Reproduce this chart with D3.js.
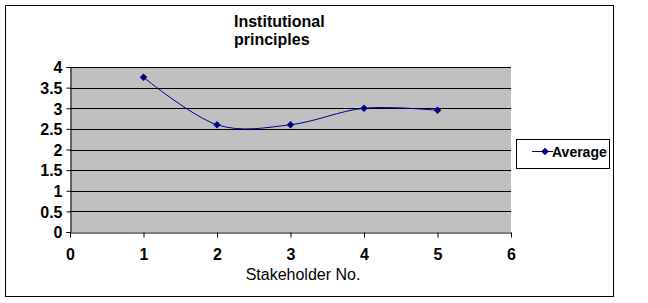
<!DOCTYPE html>
<html lang="en">
<head>
  <meta charset="UTF-8">
  <title>Institutional principles</title>
  <style>
    body { margin: 0; background: #fff; }
    svg { display: block; font-family: "Liberation Sans", Arial, sans-serif; }
  </style>
</head>
<body>
  <svg id="chart" width="648" height="303"></svg>
  <script src="https://d3js.org/d3.v7.min.js"></script>
  <script>
    // data
    const stakeholders = [1, 2, 3, 4, 5];
    const average = [3.75, 2.6, 2.6, 3.0, 2.95];
    const xTicks = [0, 1, 2, 3, 4, 5, 6];
    const yTicks = [0, 0.5, 1, 1.5, 2, 2.5, 3, 3.5, 4];
    const titleLines = ["Institutional", "principles"];
    const seriesName = "Average";

    const svg = d3.select("#chart");
    const plot = { left: 70, top: 67, right: 511, bottom: 232 };
    const navy = "#000080";

    const x = d3.scaleLinear().domain([0, 6]).range([plot.left, plot.right]);
    const y = d3.scaleLinear().domain([0, 4]).range([plot.bottom, plot.top]);

    // outer chart border
    svg.append("rect")
      .attr("x", 5.5).attr("y", 5.5)
      .attr("width", 608).attr("height", 291)
      .attr("fill", "#fff").attr("stroke", "#000");

    // plot background
    svg.append("rect")
      .attr("x", plot.left).attr("y", plot.top)
      .attr("width", plot.right - plot.left).attr("height", plot.bottom - plot.top)
      .attr("fill", "#c0c0c0");

    // gridlines
    svg.append("g")
      .selectAll("line")
      .data(yTicks.filter(d => d > 0))
      .join("line")
      .attr("x1", plot.left).attr("x2", plot.right)
      .attr("y1", d => Math.round(y(d)) + 0.5).attr("y2", d => Math.round(y(d)) + 0.5)
      .attr("stroke", "#000");

    // axes
    const yAxis = svg.append("g")
      .attr("transform", `translate(${plot.left + 0.5},0)`)
      .call(d3.axisLeft(y).tickValues(yTicks).tickSize(4).tickPadding(4).tickFormat(d3.format("")));
    const xAxis = svg.append("g")
      .attr("transform", `translate(0,${plot.bottom + 0.5})`)
      .call(d3.axisBottom(x).tickValues(xTicks).tickSize(5).tickPadding(8).tickSizeOuter(0).tickFormat(d3.format("d")));

    [xAxis, yAxis].forEach(g => {
      g.select(".domain").attr("stroke", "#000");
      g.selectAll(".tick line").attr("stroke", "#000");
      g.selectAll(".tick text")
        .attr("fill", "#000")
        .attr("font-family", "'Liberation Sans', Arial, sans-serif")
        .attr("font-size", 16)
        .attr("font-weight", "bold");
    });
    yAxis.selectAll(".tick text").attr("dy", "0.36em");
    xAxis.selectAll(".tick text").attr("dy", "0.9em");

    // smoothed series line
    const line = d3.line()
      .x(d => x(d[0]))
      .y(d => y(d[1]))
      .curve(d3.curveCardinal.tension(0));
    const pts = stakeholders.map((s, i) => [s, average[i]]);

    svg.append("path")
      .datum(pts)
      .attr("d", line)
      .attr("fill", "none")
      .attr("stroke", navy)
      .attr("stroke-width", 1);

    const diamond = d3.symbol().type(d3.symbolDiamond2).size(36);
    svg.append("g")
      .selectAll("path")
      .data(pts)
      .join("path")
      .attr("transform", d => `translate(${x(d[0])},${y(d[1])})`)
      .attr("d", diamond)
      .attr("fill", navy);

    // title
    svg.append("text")
      .attr("font-size", 16)
      .attr("font-weight", "bold")
      .selectAll("tspan")
      .data(titleLines)
      .join("tspan")
      .attr("x", 234)
      .attr("y", (d, i) => 27 + i * 18)
      .text(d => d);

    // x axis title
    svg.append("text")
      .attr("x", 303).attr("y", 280)
      .attr("text-anchor", "middle")
      .attr("font-size", 16)
      .text("Stakeholder No.");

    // legend
    const legend = svg.append("g");
    legend.append("rect")
      .attr("x", 516.5).attr("y", 139.5)
      .attr("width", 93).attr("height", 29)
      .attr("fill", "#fff").attr("stroke", "#000");
    legend.append("line")
      .attr("x1", 532).attr("x2", 553)
      .attr("y1", 151.5).attr("y2", 151.5)
      .attr("stroke", navy);
    legend.append("path")
      .attr("transform", "translate(545,151.5)")
      .attr("d", diamond)
      .attr("fill", navy);
    legend.append("text")
      .attr("x", 552).attr("y", 157)
      .attr("font-size", 14)
      .attr("font-weight", "bold")
      .text(seriesName);
  </script>
</body>
</html>
